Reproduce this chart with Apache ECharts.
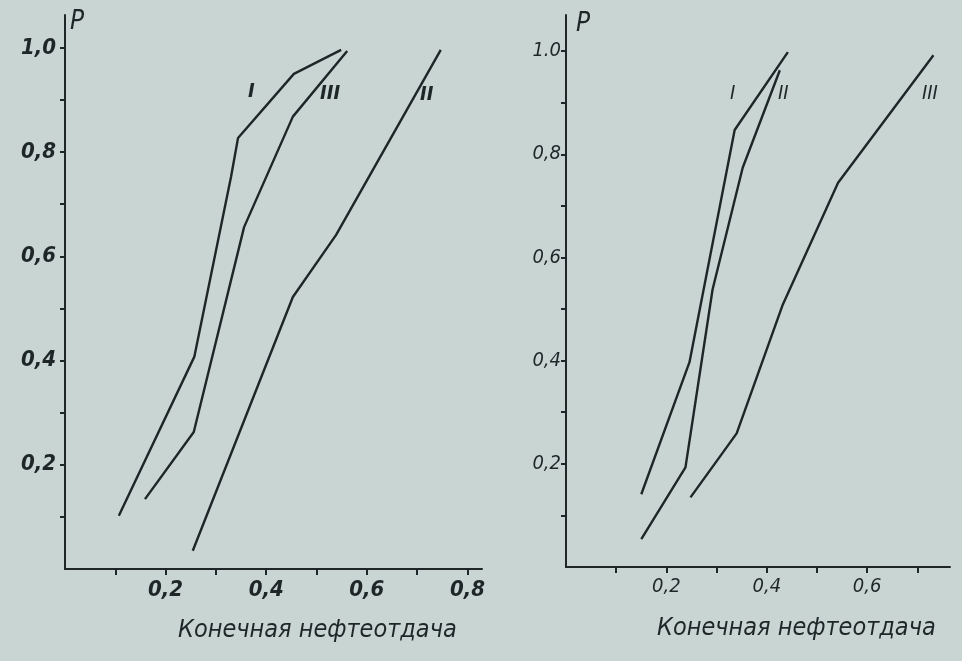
<!DOCTYPE html>
<html>
<head>
<meta charset="utf-8">
<script src="https://cdn.jsdelivr.net/npm/echarts@6/dist/echarts.min.js"></script>
<style>
html,body{margin:0;padding:0;background:#c8d5d3;}
#c{width:962px;height:661px;}
</style>
</head>
<body>
<div id="c"></div>
<script>
// ---- data (x = Конечная нефтеотдача, y = P) ----
const leftI   = [[0.107,0.102],[0.257,0.407],[0.330,0.752],[0.344,0.827],[0.455,0.950],[0.549,0.996]];
const leftII  = [[0.254,0.035],[0.453,0.522],[0.539,0.641],[0.747,0.996]];
const leftIII = [[0.159,0.134],[0.256,0.263],[0.356,0.656],[0.453,0.868],[0.561,0.994]];

const rightI   = [[0.150,0.141],[0.246,0.397],[0.336,0.847],[0.442,0.998]];
const rightII  = [[0.150,0.054],[0.238,0.193],[0.292,0.538],[0.352,0.774],[0.426,0.963]];
const rightIII = [[0.248,0.135],[0.340,0.259],[0.432,0.509],[0.542,0.745],[0.732,0.992]];

const leftXTicks  = [0.1,0.2,0.3,0.4,0.5,0.6,0.7,0.8];
const leftXLabelValues = [0.2,0.4,0.6,0.8];
const leftXLabels = ['0,2','0,4','0,6','0,8'];
const rightXTicks = [0.1,0.2,0.3,0.4,0.5,0.6,0.7];
const rightXLabelValues = [0.2,0.4,0.6];
const rightXLabels = ['0,2','0,4','0,6'];
const yTicks = [0.1,0.2,0.3,0.4,0.5,0.6,0.7,0.8,0.9,1.0];
const yLabelValues = [0.2,0.4,0.6,0.8,1.0];
const leftYLabels  = ['0,2','0,4','0,6','0,8','1,0'];
const rightYLabels = ['0,2','0,4','0,6','0,8','1.0'];
const xTitle = 'Конечная нефтеотдача';
const yTitle = 'P';

const ink = '#1f2627';
const fontFam = '"DejaVu Sans Condensed", "DejaVu Sans", sans-serif';

function lab(values, labels){
  return function(v){
    for (let i=0;i<values.length;i++) if (Math.abs(values[i]-v)<1e-6) return labels[i];
    return '';
  };
}

function xAxis(idx, max, ticks, lvals, labels, size, bold){
  return {
    type:'value', gridIndex:idx, min:0, max:max,
    axisLine:{show:true,onZero:false,lineStyle:{color:ink,width:2}},
    axisTick:{show:true,length:6,inside:false,customValues:ticks,lineStyle:{color:ink,width:2}},
    axisLabel:{show:true,customValues:lvals,formatter:lab(lvals,labels),color:ink,
      fontFamily:fontFam,fontStyle:'italic',fontWeight:bold?'bold':'normal',fontSize:size,margin:10},
    splitLine:{show:false}
  };
}
function yAxis(idx, max, labels, size, bold, margin){
  return {
    type:'value', gridIndex:idx, min:0, max:max,
    axisLine:{show:true,onZero:false,lineStyle:{color:ink,width:2}},
    axisTick:{show:true,length:5,inside:false,customValues:yTicks,lineStyle:{color:ink,width:2}},
    axisLabel:{show:true,customValues:yLabelValues,formatter:lab(yLabelValues,labels),color:ink,
      fontFamily:fontFam,fontStyle:'italic',fontWeight:bold?'bold':'normal',fontSize:size,margin:margin},
    splitLine:{show:false}
  };
}
function line(data, xi, yi){
  return {type:'line', data:data, xAxisIndex:xi, yAxisIndex:yi, symbol:'none',
    lineStyle:{color:ink,width:2.4}, silent:true, animation:false};
}
function txt(x,y,s,size,bold){
  return {type:'text', left:x, top:y, style:{text:s, fill:ink, font:(bold?'bold ':'')+'italic '+size+'px '+fontFam}};
}

const chart = echarts.init(document.getElementById('c'));
chart.setOption({
  backgroundColor:'#c8d5d3',
  animation:false,
  grid:[
    {left:65, right:962-482, top:15, bottom:92},
    {left:566, right:12, top:15, bottom:94}
  ],
  xAxis:[
    xAxis(0, 0.829, leftXTicks, leftXLabelValues, leftXLabels, 22, true),
    xAxis(1, 0.765, rightXTicks, rightXLabelValues, rightXLabels, 20, false)
  ],
  yAxis:[
    yAxis(0, 1.063, leftYLabels, 22, true, 9),
    yAxis(1, 1.07, rightYLabels, 20, false, 5)
  ],
  series:[
    line(leftI,0,0), line(leftII,0,0), line(leftIII,0,0),
    line(rightI,1,1), line(rightII,1,1), line(rightIII,1,1)
  ],
  graphic:[
    txt(70,9,yTitle,26,false),
    txt(576,11,yTitle,26,false),
    txt(248,82,'I',20,true),
    txt(320,84,'III',20,true),
    txt(420,85,'II',20,true),
    txt(730,84,'I',20,false),
    txt(778,84,'II',20,false),
    txt(922,84,'III',20,false),
    txt(178,618,xTitle,25,false),
    txt(657,616,xTitle,25,false)
  ]
});
</script>
</body>
</html>
